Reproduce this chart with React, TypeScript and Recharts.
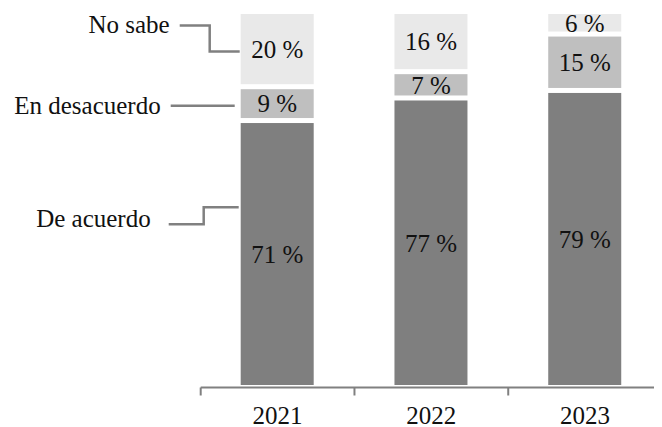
import React from 'react';
import { BarChart, Bar, XAxis, YAxis, LabelList } from 'recharts';

const years = ['2021', '2022', '2023'];
const deAcuerdo = [71, 77, 79];
const enDesacuerdo = [9, 7, 15];
const noSabe = [20, 16, 6];
const seriesNames = ['De acuerdo', 'En desacuerdo', 'No sabe'];

const data = years.map((year, i) => ({
  year,
  deAcuerdo: deAcuerdo[i],
  enDesacuerdo: enDesacuerdo[i],
  noSabe: noSabe[i],
}));

const W = 654;
const H = 419;
const MARGIN = { top: 3.5, right: 0, left: 192.7, bottom: 0 };
const XAXIS_H = 39.5;
const AXIS_Y = H - XAXIS_H;
const BAND = (W - MARGIN.left - MARGIN.right) / years.length;
const FONT = "'Liberation Serif', 'Times New Roman', serif";
const LINE = '#808080';
const TEXT = '#111';
const GAP = 2.5;

const GapShape = (props: any) => {
  const { x, y, width, height, fill } = props;
  return (
    <rect
      x={x}
      y={y + GAP}
      width={width}
      height={Math.max(0, height - 2 * GAP)}
      fill={fill}
    />
  );
};

const box = (props: any) => {
  const vb = props.viewBox && props.viewBox.width !== undefined ? props.viewBox : props;
  return { x: Number(vb.x), y: Number(vb.y), width: Number(vb.width), height: Number(vb.height) };
};

const LeftLabelNoSabe = (props: any) => {
  if (props.index !== 0) return null;
  const { x, y, height } = box(props);
  const endY = y + height / 2 + 2.5;
  const startY = endY - 26;
  return (
    <g>
      <polyline
        points={`${x - 61},${startY} ${x - 31},${startY} ${x - 31},${endY} ${x - 1},${endY}`}
        fill="none"
        stroke={LINE}
        strokeWidth={2.5}
      />
      <text x={x - 71} y={startY - 0.8} textAnchor="end" dominantBaseline="central" fontFamily={FONT} fontSize={25} fill={TEXT}>
        {seriesNames[2]}
      </text>
    </g>
  );
};

const LeftLabelEnDesacuerdo = (props: any) => {
  if (props.index !== 0) return null;
  const { x, y, height } = box(props);
  const lineY = y + height / 2 + 2.2;
  return (
    <g>
      <line x1={x - 70} y1={lineY} x2={x - 6} y2={lineY} stroke={LINE} strokeWidth={2.5} />
      <text x={x - 80} y={lineY} textAnchor="end" dominantBaseline="central" fontFamily={FONT} fontSize={25} fill={TEXT}>
        {seriesNames[1]}
      </text>
    </g>
  );
};

const LeftLabelDeAcuerdo = (props: any) => {
  if (props.index !== 0) return null;
  const { x, y, height } = box(props);
  const endY = y + height * 0.325;
  const startY = endY + 17;
  return (
    <g>
      <polyline
        points={`${x - 72},${startY} ${x - 37},${startY} ${x - 37},${endY} ${x - 2},${endY}`}
        fill="none"
        stroke={LINE}
        strokeWidth={2.5}
      />
      <text x={x - 90} y={startY - 6} textAnchor="end" dominantBaseline="central" fontFamily={FONT} fontSize={25} fill={TEXT}>
        {seriesNames[0]}
      </text>
    </g>
  );
};

const YearTick = (props: any) => {
  const { x, payload, index } = props;
  return (
    <g>
      <line x1={x - BAND / 2} y1={AXIS_Y} x2={x - BAND / 2} y2={AXIS_Y + 8} stroke={LINE} strokeWidth={2} />
      {index === years.length - 1 && (
        <line x1={x + BAND / 2} y1={AXIS_Y} x2={x + BAND / 2} y2={AXIS_Y + 8} stroke={LINE} strokeWidth={2} />
      )}
      <text x={x} y={AXIS_Y + 36} textAnchor="middle" fontFamily={FONT} fontSize={25} fill={TEXT}>
        {payload.value}
      </text>
    </g>
  );
};

const pct = (v: any) => `${v} %`;

const innerLabelProps = {
  position: 'center' as const,
  formatter: pct,
  fill: TEXT,
  fontSize: 25,
  fontFamily: FONT,
};

export default function App() {
  return (
    <div style={{ width: W, height: H }}>
      <BarChart width={W} height={H} data={data} margin={MARGIN} barSize={73}>
        <XAxis
          dataKey="year"
          height={XAXIS_H}
          axisLine={{ stroke: LINE, strokeWidth: 2 }}
          tickLine={false}
          tick={<YearTick />}
          interval={0}
        />
        <YAxis hide domain={[0, 100]} />
        <Bar dataKey="deAcuerdo" stackId="a" fill="#7f7f7f" shape={<GapShape />} isAnimationActive={false}>
          <LabelList dataKey="deAcuerdo" {...innerLabelProps} />
          <LabelList dataKey="deAcuerdo" content={<LeftLabelDeAcuerdo />} />
        </Bar>
        <Bar dataKey="enDesacuerdo" stackId="a" fill="#bfbfbf" shape={<GapShape />} isAnimationActive={false}>
          <LabelList dataKey="enDesacuerdo" {...innerLabelProps} />
          <LabelList dataKey="enDesacuerdo" content={<LeftLabelEnDesacuerdo />} />
        </Bar>
        <Bar dataKey="noSabe" stackId="a" fill="#e9e9e9" shape={<GapShape />} isAnimationActive={false}>
          <LabelList dataKey="noSabe" {...innerLabelProps} />
          <LabelList dataKey="noSabe" content={<LeftLabelNoSabe />} />
        </Bar>
      </BarChart>
    </div>
  );
}
